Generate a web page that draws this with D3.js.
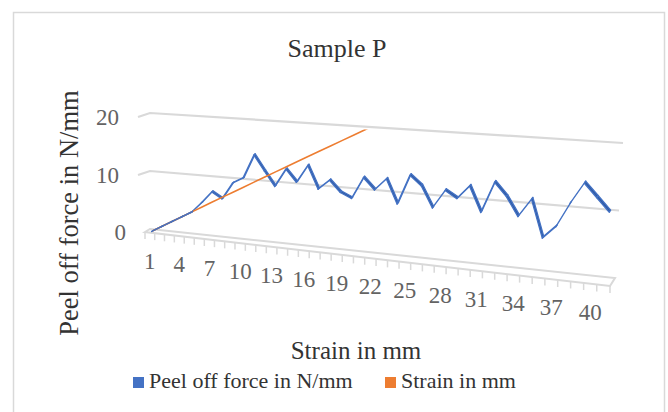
<!DOCTYPE html>
<html>
<head>
<meta charset="utf-8">
<script src="https://cdn.jsdelivr.net/npm/d3@7"></script>
<style>
  body { margin: 0; background: #fff; }
  svg { display: block; font-family: "Liberation Serif", "Times New Roman", serif; }
</style>
</head>
<body>
<div id="chart"></div>
<script>
var categories = [1, 2, 3, 4, 5, 6, 7, 8, 9, 10, 11, 12, 13, 14, 15, 16, 17, 18, 19, 20,
  21, 22, 23, 24, 25, 26, 27, 28, 29, 30, 31, 32, 33, 34, 35, 36, 37, 38, 39, 40, 41];
var peelForce = [0, 1, 2, 3, 4, 5.8, 7.8, 6.8, 9.6, 10.6, 14.6, 12.1, 9.7, 12.7, 10.7, 13.6, 9.9, 11.5, 9.7, 8.9,
  12.4, 10.6, 12.5, 8.7, 13.4, 11.9, 8.6, 11.5, 10.4, 12.5, 8.6, 13.4, 11.4, 8.5, 11.3, 5.6, 7.5, 11.2, 14.4, 12.4, 10.4];
var strain = [0, 1, 2, 3, 4, 5, 6, 7, 8, 9, 10, 11, 12, 13, 14, 15, 16, 17, 18, 19,
  20, 21, 22, 23, 24, 25, 26, 27, 28, 29, 30, 31, 32, 33, 34, 35, 36, 37, 38, 39, 40];
var yTicks = [0, 10, 20];
var xLabels = [1, 4, 7, 10, 13, 16, 19, 22, 25, 28, 31, 34, 37, 40];

var width = 668, height = 412;
var blue = "#4472c4", blueDark = "#2f5aa3", orange = "#ed7d31", grid = "#d9d9d9";

var svg = d3.select("#chart").append("svg")
  .attr("width", width)
  .attr("height", height);

// category -> depth-wise fraction, value -> fraction of wall height
var tScale = d3.scaleLinear().domain([0.5, categories.length + 0.5]).range([0, 1]);
var vScale = d3.scaleLinear().domain([0, 20]).range([0, 1]);

// rough perspective: right end of the plot is nearer to the viewer
var wallL = 150, wallR = 615, g = 0.147;
function project(c, v, z) {
  var t = tScale(c), f = vScale(v);
  var x = wallL + (wallR - wallL) * (1 - g) * t / (1 - g * t);
  var u = (x - wallL) / (wallR - wallL);
  var base = 229 + 49 * u, h = 116 + 19 * u;
  return [x + 8 * f * t - 5 * z, base - f * h + z * (3 + 5 * t)];
}
var cMin = 0.5, cMax = categories.length + 0.5;

svg.append("rect")
  .attr("x", 13.5).attr("y", 12.5)
  .attr("width", 651).attr("height", 420)
  .attr("fill", "none").attr("stroke", grid).attr("stroke-width", 1.5);

svg.append("text")
  .attr("x", 337).attr("y", 57)
  .attr("text-anchor", "middle")
  .attr("font-size", 26).attr("fill", "#333")
  .text("Sample P");

// wall gridlines (side segment + back wall)
yTicks.filter(function(v) { return v > 0; }).forEach(function(v) {
  var a = project(cMin, v, 0), b = project(cMax, v, 0);
  var side = [a[0] - 12, a[1] + 4];
  svg.append("path")
    .attr("d", d3.line()([side, a, b]))
    .attr("fill", "none").attr("stroke", grid).attr("stroke-width", 2.2);
});

// floor
svg.append("path")
  .attr("d", d3.line()([project(cMin, 0, 0), project(cMax, 0, 0), project(cMax, 0, 1), project(cMin, 0, 1)]) + "Z")
  .attr("fill", "#fff").attr("stroke", grid).attr("stroke-width", 2);

var bounds = categories.map(function(c) { return c - 0.5; }).concat([categories[categories.length - 1] + 0.5]);
svg.append("g").selectAll("line")
  .data(bounds)
  .enter().append("line")
  .attr("x1", function(d) { return project(d, 0, 1)[0]; })
  .attr("y1", function(d) { return project(d, 0, 1)[1]; })
  .attr("x2", function(d) { return project(d, 0, 1)[0]; })
  .attr("y2", function(d) { return project(d, 0, 1)[1] + 7; })
  .attr("stroke", grid).attr("stroke-width", 1.5);

// y tick labels
svg.append("g").selectAll("text")
  .data(yTicks)
  .enter().append("text")
  .attr("x", function(v) {
    var p = v > 0 ? project(cMin, v, 0) : project(cMin, 0, 1);
    return (v > 0 ? p[0] - 12 : p[0]) - 19;
  })
  .attr("y", function(v) {
    var p = v > 0 ? project(cMin, v, 0) : project(cMin, 0, 1);
    return v > 0 ? p[1] + 4 : p[1];
  })
  .attr("dy", "0.35em")
  .attr("text-anchor", "end")
  .attr("font-size", 23).attr("fill", "#636363")
  .text(function(v) { return v; });

// x tick labels
svg.append("g").selectAll("text")
  .data(xLabels)
  .enter().append("text")
  .attr("x", function(c) { return project(c, 0, 1)[0]; })
  .attr("y", function(c) { return project(c, 0, 1)[1] + 28; })
  .attr("dy", "0.35em")
  .attr("text-anchor", "middle")
  .attr("font-size", 23).attr("fill", "#636363")
  .text(function(c) { return c; });

// axis titles
svg.append("text")
  .attr("transform", "translate(78,213) rotate(-90)")
  .attr("text-anchor", "middle")
  .attr("font-size", 26.5).attr("fill", "#333")
  .text("Peel off force in N/mm");

svg.append("text")
  .attr("x", 356).attr("y", 359)
  .attr("text-anchor", "middle")
  .attr("font-size", 25).attr("fill", "#333")
  .text("Strain in mm");

// blue series as a thin 3D ribbon
function ribbon(sel, idx) {
  sel.selectAll("path")
    .data(idx)
    .enter().append("path")
    .attr("d", function(i) {
      var c0 = categories[i], c1 = categories[i + 1];
      return d3.line()([
        project(c0, peelForce[i], 0.36), project(c1, peelForce[i + 1], 0.36),
        project(c1, peelForce[i + 1], 0.64), project(c0, peelForce[i], 0.64)
      ]) + "Z";
    })
    .attr("fill", blueDark).attr("stroke", blue)
    .attr("stroke-width", 1.3).attr("stroke-linejoin", "round");
}
var segs = d3.range(categories.length - 1);
ribbon(svg.append("g"), segs);

// orange series, clipped at the top of the wall
var t0 = project(cMin, 20, 0.5), t1 = project(cMax, 20, 0.5);
svg.append("clipPath").attr("id", "wallclip")
  .append("path")
  .attr("d", d3.line()([[0, t0[1]], t0, t1, [width, t1[1]], [width, height], [0, height]]) + "Z");

svg.append("path")
  .attr("clip-path", "url(#wallclip)")
  .attr("d", d3.line()(categories.map(function(c, i) { return project(c, strain[i], 0.5); })))
  .attr("fill", "none").attr("stroke", orange).attr("stroke-width", 1.6);

// where both series coincide the front (blue) series stays visible
ribbon(svg.append("g"), segs.filter(function(i) {
  return peelForce[i] === strain[i] && peelForce[i + 1] === strain[i + 1];
}));

// legend
var legend = [["Peel off force in N/mm", blue, 133], ["Strain in mm", orange, 385]];
var lg = svg.append("g").selectAll("g")
  .data(legend)
  .enter().append("g");
lg.append("rect")
  .attr("x", function(d) { return d[2]; }).attr("y", 377)
  .attr("width", 11).attr("height", 11)
  .attr("fill", function(d) { return d[1]; });
lg.append("text")
  .attr("x", function(d) { return d[2] + 16; }).attr("y", 388)
  .attr("font-size", 22).attr("fill", "#333")
  .text(function(d) { return d[0]; });
</script>
</body>
</html>
